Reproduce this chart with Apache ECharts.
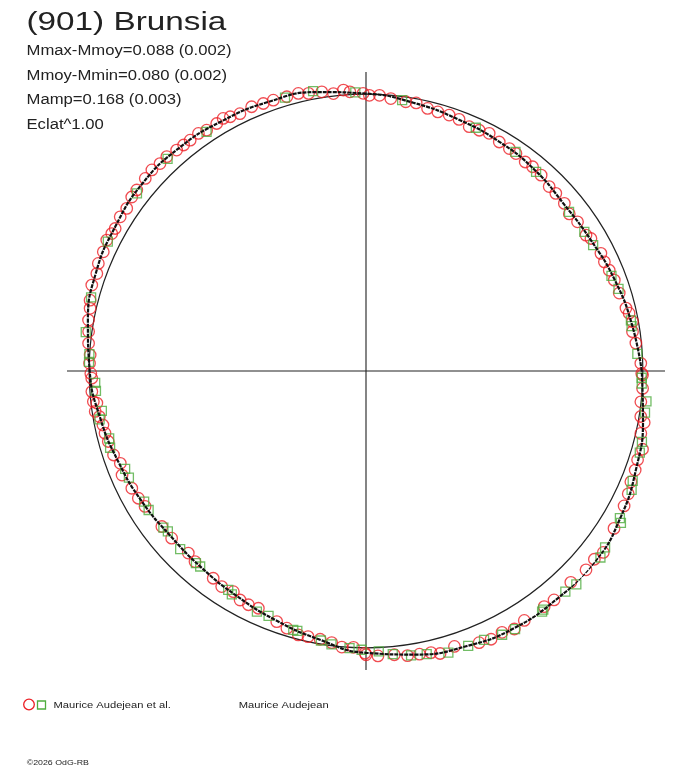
<!DOCTYPE html>
<html>
<head>
<meta charset="utf-8">
<script src="https://cdn.jsdelivr.net/npm/echarts/dist/echarts.min.js"></script>
<style>
  body { margin: 0; background: #fff; }
  #main { width: 688px; height: 768px; }
</style>
</head>
<body>
<div id="main"></div>
<script>
// lightcurve in polar form: [phase angle (deg), relative radius], reference circle = 1
var fitAngle = [0, 10, 20, 30, 40, 50, 60, 70, 80, 90, 100, 110, 120, 130, 140, 150, 160, 170,
  180, 190, 200, 210, 220, 230, 240, 250, 260, 270, 280, 290, 300, 310, 320, 330, 340, 350, 360];
var fitRadius = [0.996, 0.975, 0.957, 0.940, 0.935, 0.948, 0.958, 0.968, 0.984, 1.002, 1.023, 1.034,
  1.042, 1.051, 1.054, 1.045, 1.038, 1.020, 0.998, 0.975, 0.953, 0.937, 0.924, 0.926, 0.937, 0.957,
  0.984, 1.018, 1.040, 1.058, 1.072, 1.074, 1.078, 1.061, 1.038, 1.016, 0.996];

// Maurice Audejean et al. (red circles)
var redPoints = [
  [89.3, 0.996], [87.2, 0.997], [84.8, 0.988], [81.6, 0.983], [79.4, 0.985], [76.8, 0.974],
  [74.5, 0.971], [72.0, 0.972], [69.7, 0.969], [67.1, 0.958], [64.8, 0.961], [62.6, 0.967],
  [59.8, 0.957], [57.2, 0.956], [55.4, 0.954], [52.7, 0.949], [50.8, 0.952], [48.2, 0.949],
  [45.2, 0.939], [43.1, 0.939], [40.2, 0.938], [37.7, 0.928], [35.2, 0.935], [31.7, 0.934],
  [30.5, 0.943], [26.6, 0.949], [24.6, 0.947], [22.5, 0.951], [20.1, 0.955], [17.1, 0.957],
  [13.6, 0.966], [12.4, 0.973], [10.5, 0.979], [8.4, 0.973], [5.9, 0.980], [1.6, 0.993],
  [359.5, 0.996],
  [90.6, 1.003], [93.3, 1.010], [94.6, 1.018], [96.7, 1.009], [99.0, 1.021], [101.7, 1.024],
  [103.7, 1.032], [106.1, 1.031], [108.9, 1.034], [111.0, 1.035], [113.4, 1.040], [116.1, 1.035],
  [118.1, 1.041], [119.5, 1.048], [121.1, 1.044], [123.5, 1.043], [125.2, 1.050], [127.3, 1.048],
  [128.9, 1.049], [130.6, 1.051], [132.9, 1.057], [134.8, 1.056], [136.8, 1.061], [138.9, 1.058],
  [141.7, 1.055], [143.4, 1.054], [145.8, 1.045], [147.9, 1.048], [150.4, 1.042], [151.6, 1.044],
  [153.2, 1.049], [155.6, 1.042], [158.1, 1.042], [160.1, 1.034], [162.6, 1.038], [165.6, 1.029],
  [167.2, 1.022], [169.6, 1.019], [171.9, 1.012], [174.3, 1.007], [176.7, 0.998], [178.4, 0.999],
  [180.5, 0.994],
  [181.5, 0.991], [184.3, 0.993], [186.4, 0.991], [186.8, 0.979], [188.5, 0.989], [189.7, 0.977],
  [191.6, 0.970], [193.4, 0.969], [195.3, 0.965], [198.4, 0.961], [200.6, 0.948], [203.1, 0.958],
  [206.6, 0.946], [209.2, 0.942], [211.5, 0.936], [217.3, 0.927], [220.7, 0.926], [225.7, 0.919],
  [228.1, 0.925], [233.6, 0.930], [236.2, 0.937], [239.0, 0.930], [241.2, 0.944], [243.3, 0.945],
  [245.6, 0.941], [250.4, 0.961], [252.9, 0.972], [255.6, 0.984], [257.7, 0.982], [260.3, 0.983],
  [262.8, 0.989], [265.0, 1.001], [267.4, 0.999], [269.8, 1.019],
  [270.0, 1.025], [272.4, 1.030], [275.7, 1.030], [278.3, 1.039], [280.7, 1.041], [283.0, 1.044],
  [284.7, 1.055], [287.8, 1.045], [292.6, 1.063], [295.0, 1.069], [297.5, 1.064], [299.9, 1.075],
  [302.4, 1.067], [307.1, 1.067], [309.4, 1.070], [314.1, 1.063], [317.9, 1.071], [320.5, 1.069],
  [322.6, 1.079], [327.6, 1.061], [332.4, 1.052], [334.9, 1.046], [337.3, 1.037], [339.8, 1.036],
  [341.9, 1.032], [344.2, 1.038], [347.2, 1.018], [349.5, 1.022], [350.6, 1.006], [353.6, 0.999],
  [356.4, 1.001], [359.2, 0.999]
];

// green squares
var greenPoints = [
  [82.4, 0.987], [65.7, 0.964], [55.7, 0.958], [49.5, 0.946], [38.1, 0.932], [32.5, 0.935],
  [29.0, 0.938], [21.2, 0.951], [18.0, 0.959], [10.8, 0.974], [9.6, 0.973], [3.6, 0.982],
  [358.6, 0.996], [92.2, 1.007], [100.7, 1.029], [106.5, 1.030], [123.7, 1.038], [133.1, 1.049],
  [142.2, 1.047], [153.4, 1.043], [165.0, 1.028], [172.1, 1.022], [176.5, 1.001], [178.1, 1.001],
  [182.5, 0.979], [184.2, 0.978], [188.6, 0.965], [190.3, 0.978], [194.7, 0.959], [196.7, 0.965],
  [202.1, 0.939], [204.2, 0.939], [210.5, 0.930], [212.6, 0.932], [217.7, 0.925], [219.0, 0.921],
  [223.8, 0.930], [228.5, 0.927], [229.7, 0.926], [237.8, 0.934], [239.0, 0.941], [245.6, 0.954],
  [248.3, 0.952], [254.3, 0.971], [255.2, 0.971], [260.5, 0.987], [262.8, 0.995], [266.6, 1.003],
  [269.1, 1.007], [272.6, 1.014], [275.4, 1.027], [279.0, 1.040], [282.1, 1.046], [286.3, 1.060],
  [290.4, 1.059], [293.7, 1.061], [297.3, 1.072], [300.0, 1.077], [306.2, 1.077], [306.6, 1.074],
  [312.1, 1.074], [314.6, 1.082], [321.5, 1.082], [323.6, 1.073], [329.2, 1.072], [329.9, 1.060],
  [335.9, 1.051], [337.6, 1.042], [343.4, 1.032], [345.6, 1.029], [351.5, 1.019], [353.8, 1.019],
  [357.4, 0.997]
];

var infoLines = ['Mmax-Mmoy=0.088 (0.002)', 'Mmoy-Mmin=0.080 (0.002)', 'Mamp=0.168 (0.003)', 'Eclat^1.00'];

var FONT = 'Liberation Sans, Arial, sans-serif';
var RED = '#ec1f25';
var GREEN = '#4fad3e';
var INK = '#222';

// text with a horizontal stretch, placed by its baseline
function stretchedText(str, x, baseline, size, sx) {
  return {
    type: 'text', x: x, y: baseline - 0.3465 * size, scaleX: sx, silent: true,
    style: { text: str, fontSize: size, fontFamily: FONT, fill: INK, verticalAlign: 'middle', align: 'left' }
  };
}

var graphics = [stretchedText('(901) Brunsia', 26.5, 31.7, 26, 1.28)];
infoLines.forEach(function (s, i) {
  graphics.push(stretchedText(s, 26.5, 55.7 + i * 24.8, 14, 1.19));
});
graphics.push({ type: 'circle', silent: true, shape: { cx: 29, cy: 704.5, r: 5.3 }, style: { fill: 'none', stroke: RED, lineWidth: 1.3 } });
graphics.push({ type: 'rect', silent: true, shape: { x: 37.5, y: 701, width: 8, height: 8 }, style: { fill: 'none', stroke: GREEN, lineWidth: 1.3 } });
graphics.push(stretchedText('Maurice Audejean et al.', 53.5, 709, 9, 1.24));
graphics.push(stretchedText('Maurice Audejean', 238.7, 709, 9, 1.24));
graphics.push(stretchedText('\u00a92026 OdG-RB', 26.7, 766, 8, 1.1));

var myChart = echarts.init(document.getElementById('main'));
var option = {
  backgroundColor: '#fff',
  animation: false,
  polar: { center: [366, 371], radius: 299 },
  angleAxis: {
    type: 'value', min: 0, max: 360, interval: 90, startAngle: 0, clockwise: false,
    axisLine: { show: false }, axisTick: { show: false }, axisLabel: { show: false },
    splitLine: { show: true, lineStyle: { color: INK, width: 1.1 } }
  },
  radiusAxis: {
    type: 'value', min: 0, max: 1.08, interval: 1,
    axisLine: { show: false }, axisTick: { show: false }, axisLabel: { show: false },
    // only the ring at 1.0 (reference circle) is drawn
    splitLine: { show: true, lineStyle: { color: ['rgba(0,0,0,0)', INK, 'rgba(0,0,0,0)'], width: 1.2 } }
  },
  graphic: graphics,
  series: [
    {
      name: 'Maurice Audejean et al.',
      type: 'scatter', coordinateSystem: 'polar', clip: false,
      symbol: 'circle', symbolSize: 11.5,
      itemStyle: { color: 'rgba(0,0,0,0)', borderColor: RED, borderWidth: 1.3 },
      data: redPoints.map(function (p) { return [p[1], p[0]]; }),
      z: 3
    },
    {
      name: 'Maurice Audejean',
      type: 'scatter', coordinateSystem: 'polar', clip: false,
      symbol: 'rect', symbolSize: 9,
      itemStyle: { color: 'rgba(0,0,0,0)', borderColor: GREEN, borderWidth: 1.3 },
      data: greenPoints.map(function (p) { return [p[1], p[0]]; }),
      z: 4
    },
    {
      name: 'fit',
      type: 'line', coordinateSystem: 'polar', clip: false,
      smooth: 0.5, showSymbol: false,
      lineStyle: { color: '#111', width: 2.2, type: [4, 1] },
      data: fitAngle.map(function (a, i) { return [fitRadius[i], a]; }),
      z: 5
    }
  ]
};
myChart.setOption(option);
</script>
</body>
</html>
